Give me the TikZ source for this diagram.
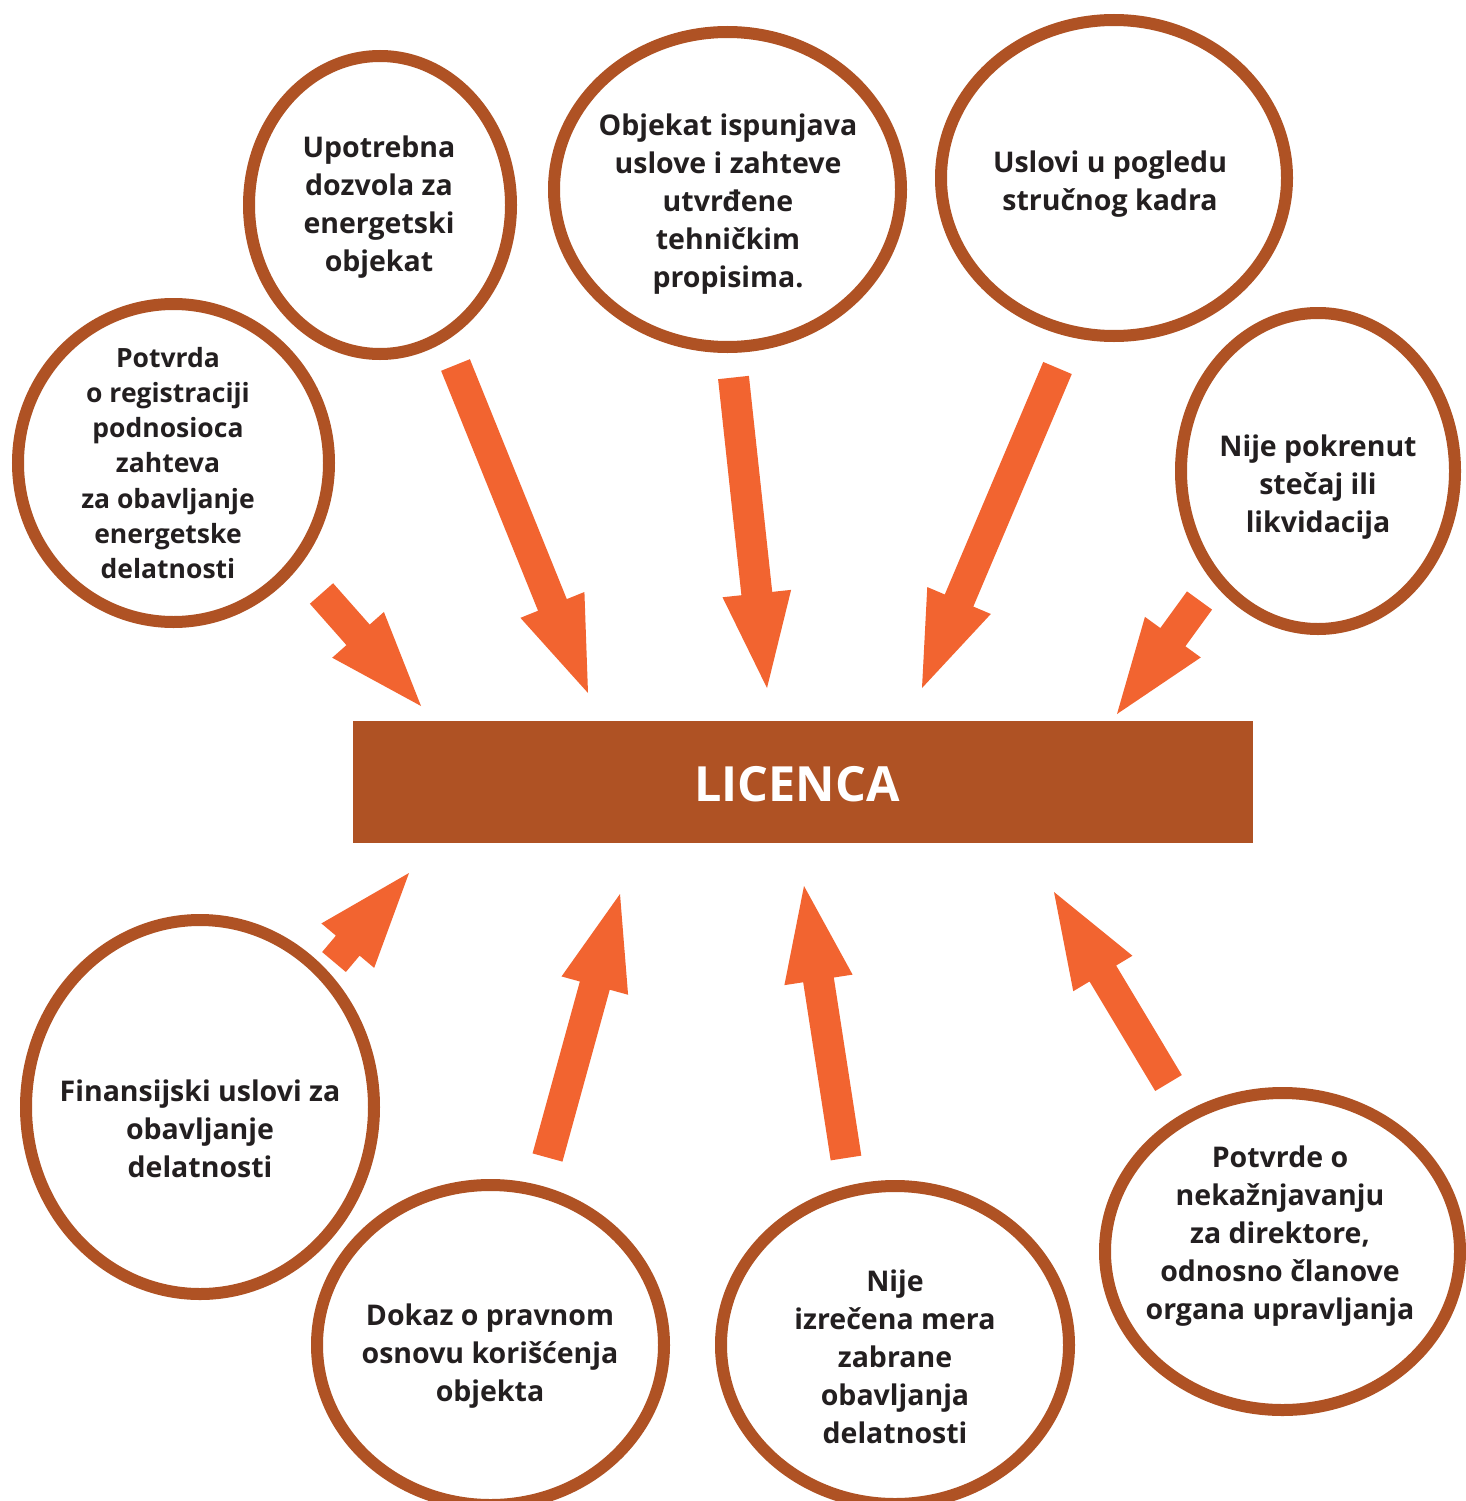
\documentclass[tikz,border=0pt]{standalone}
\usepackage{fontspec}
\setmainfont{Open Sans}
\usetikzlibrary{shapes.geometric,calc}
\definecolor{brownc}{HTML}{AF5224}
\definecolor{orangec}{HTML}{F26430}
\definecolor{textc}{HTML}{231F20}
\newcommand{\fatarrow}[2]{%
  \path ($(#2)!95pt!(#1)$) coordinate (ab);
  \fill[orangec] ($(#1)!15.5pt!90:(#2)$) -- ($(ab)!15.5pt!90:(#2)$) -- ($(ab)!34.5pt!90:(#2)$) -- (#2)
    -- ($(ab)!34.5pt!-90:(#2)$) -- ($(ab)!15.5pt!-90:(#2)$) -- ($(#1)!15.5pt!-90:(#2)$) -- cycle;}
\begin{document}
\begin{tikzpicture}[x=1pt,y=-1pt,
  bubble/.style={ellipse, draw=brownc, line width=12pt, fill=white, inner sep=0pt},
  btext/.style={align=center, text=textc, inner sep=0pt, font=\bfseries\fontsize{28.5}{38}\selectfont},
  stext/.style={align=center, text=textc, inner sep=0pt, font=\bfseries\fontsize{26.5}{35.2}\selectfont},
  mainbox/.style={fill=brownc, minimum width=900pt, minimum height=122pt, inner sep=0pt},
  maintext/.style={text=white, inner sep=0pt, font=\bfseries\fontsize{48.5}{60}\selectfont}
  ]
\useasboundingbox[fill=white] (0,0) rectangle (1465,1501);
% central box
\node[mainbox] (lic) at (803,782) {};
\node[maintext] (lict) at (797,784) {LICENCA};
% ellipses
\node[bubble, minimum width=311pt, minimum height=318pt] (e1) at (173.5,463) {};
\node[bubble, minimum width=262pt, minimum height=298pt] (e2) at (380,205) {};
\node[bubble, minimum width=347pt, minimum height=315pt] (e3) at (727.5,189.5) {};
\node[bubble, minimum width=346pt, minimum height=316pt] (e4) at (1114,178) {};
\node[bubble, minimum width=274pt, minimum height=316pt] (e5) at (1318,471) {};
\node[bubble, minimum width=348pt, minimum height=374pt] (e6) at (200,1107) {};
\node[bubble, minimum width=347pt, minimum height=320pt] (e7) at (490.5,1345) {};
\node[bubble, minimum width=348pt, minimum height=318pt] (e8) at (895,1345) {};
\node[bubble, minimum width=355pt, minimum height=317pt] (e9) at (1282.5,1251.5) {};
% texts
\node[stext] (t1) at (168,463) {Potvrda\\o registraciji\\podnosioca\\zahteva\\za obavljanje\\energetske\\delatnosti};
\node[btext] (t2) at (379,207) {Upotrebna\\dozvola za\\energetski\\objekat};
\node[btext] (t3) at (728,204) {Objekat ispunjava\\uslove i zahteve\\utvrđene\\tehničkim\\propisima.};
\node[btext] (t4) at (1110,184) {Uslovi u pogledu\\stručnog kadra};
\node[btext] (t5) at (1318,487) {Nije pokrenut\\stečaj ili\\likvidacija};
\node[btext] (t6) at (200,1129) {Finansijski uslovi za\\obavljanje\\delatnosti};
\node[btext] (t7) at (490,1356) {Dokaz o pravnom\\osnovu korišćenja\\objekta};
\node[btext] (t8) at (895,1357) {Nije\\izrečena mera\\zabrane\\obavljanja\\delatnosti};
\node[btext] (t9) at (1280,1236) {Potvrde o\\nekažnjavanju\\za direktore,\\odnosno članove\\organa upravljanja};
% arrows
\coordinate (a1t) at (321.5,593.5);  \coordinate (a1h) at (421,706);
\coordinate (a2t) at (455.5,365);    \coordinate (a2h) at (588,693);
\coordinate (a3t) at (733.5,377.5);  \coordinate (a3h) at (767,688);
\coordinate (a4t) at (1057.5,368);   \coordinate (a4h) at (922,688);
\coordinate (a5t) at (1199.5,600.5); \coordinate (a5h) at (1117,714);
\coordinate (a6t) at (334,962);      \coordinate (a6h) at (409,873);
\coordinate (a7t) at (547.5,1157.5); \coordinate (a7h) at (620,894);
\coordinate (a8t) at (846,1158);     \coordinate (a8h) at (804,886);
\coordinate (a9t) at (1168.5,1083);  \coordinate (a9h) at (1054,892);
\fatarrow{a1t}{a1h}
\fatarrow{a2t}{a2h}
\fatarrow{a3t}{a3h}
\fatarrow{a4t}{a4h}
\fatarrow{a5t}{a5h}
\fatarrow{a6t}{a6h}
\fatarrow{a7t}{a7h}
\fatarrow{a8t}{a8h}
\fatarrow{a9t}{a9h}
\end{tikzpicture}
\end{document}
